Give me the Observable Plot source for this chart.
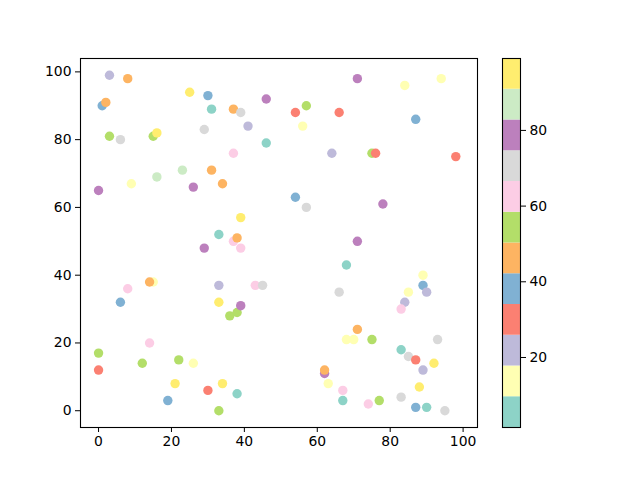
<!DOCTYPE html>
<html>
<head>
<meta charset="utf-8">
<script src="https://cdn.jsdelivr.net/npm/d3@7"></script>
<script src="https://cdn.jsdelivr.net/npm/@observablehq/plot@0.6"></script>
<style>
  body { margin: 0; background: white; }
  #wrap { position: relative; width: 640px; height: 480px; }
  #chart, #cbar { position: absolute; top: 0; }
  #chart { left: 0; }
  #cbar { left: 480px; }
</style>
</head>
<body>
<div id="wrap"><div id="chart"></div><div id="cbar"></div></div>
<script>
// point positions
const xs = [3, 8, 25, 30, 46, 1, 2, 31, 37, 39, 41, 46, 3, 6, 15, 16, 29, 37, 23, 31,
  16, 9, 26, 34, 0, 39, 33, 37, 38, 29, 39, 71, 84, 94, 57, 54, 66, 87, 56, 64,
  75, 76, 98, 54, 57, 78, 71, 8, 15, 14, 6, 33, 43, 45, 33, 36, 38, 39, 14, 0,
  0, 12, 22, 26, 21, 34, 30, 38, 19, 33, 68, 89, 89, 90, 85, 66, 84, 83, 71, 68,
  70, 75, 93, 83, 85, 87, 92, 89, 62, 62, 63, 67, 88, 67, 74, 77, 83, 87, 90, 95];
const ys = [99, 98, 94, 93, 92, 90, 91, 89, 89, 88, 84, 79, 81, 80, 81, 82, 83, 76, 71, 71,
  69, 67, 66, 67, 65, 57, 52, 50, 51, 48, 48, 98, 96, 98, 90, 88, 88, 86, 84, 76,
  76, 76, 75, 63, 60, 61, 50, 36, 38, 38, 32, 37, 37, 37, 32, 28, 29, 31, 20, 17,
  12, 14, 15, 14, 8, 8, 6, 5, 3, 0, 43, 40, 37, 35, 35, 35, 32, 30, 24, 21,
  21, 21, 21, 18, 16, 15, 14, 12, 11, 12, 8, 6, 7, 3, 2, 3, 4, 1, 1, 0];
// colour value per point (estimated from the colour band it falls in)
const cs = [22, 46, 95, 38, 78, 38, 46, 5, 46, 70, 22, 5, 54, 70, 54, 95, 70, 62, 87, 46,
  87, 14, 78, 46, 78, 95, 5, 62, 46, 78, 62, 78, 14, 14, 54, 30, 30, 38, 14, 22,
  54, 30, 30, 38, 70, 78, 78, 62, 14, 46, 38, 22, 62, 70, 95, 54, 54, 78, 62, 54,
  30, 54, 54, 14, 95, 95, 30, 5, 38, 54, 5, 14, 38, 22, 14, 70, 22, 62, 46, 14,
  14, 54, 70, 5, 70, 30, 95, 22, 78, 46, 14, 62, 95, 5, 62, 54, 70, 38, 5, 70];
const cMin = 1.5;
const cMax = 99;
const axisTicks = [0, 20, 40, 60, 80, 100];
const cbarTicks = [20, 40, 60, 80];

const colors = d3.schemeSet3;
const step = (cMax - cMin) / colors.length;
const thresholds = d3.range(1, colors.length).map(i => cMin + i * step);
const colorScale = { type: "threshold", domain: thresholds, range: colors };

const pts = xs.map((x, i) => ({ x, y: ys[i], c: cs[i] }));
const bands = colors.map((col, i) => ({ y1: cMin + i * step, y2: cMin + (i + 1) * step, c: cMin + (i + 0.5) * step }));

const font = { "font-family": "DejaVu Sans", "font-size": "13.9px", color: "black", background: "white" };

let chart = Plot.plot({
  width: 480,
  height: 480,
  marginLeft: 80,
  marginRight: 3,
  marginTop: 58,
  marginBottom: 53,
  style: font,
  x: { domain: [-4.95, 103.95], ticks: axisTicks, tickSize: 5, tickPadding: 4, label: null },
  y: { domain: [-4.95, 103.95], ticks: axisTicks, tickSize: 5, tickPadding: 4, label: null },
  color: colorScale,
  marks: [
    Plot.dot(pts, { x: "x", y: "y", fill: "c", r: 4.7, stroke: "none" }),
    Plot.frame({ stroke: "black", strokeWidth: 1.1 })
  ]
});
d3.select("#chart").append(() => chart);

let cbar = Plot.plot({
  width: 160,
  height: 480,
  marginLeft: 22,
  marginRight: 120,
  marginTop: 58,
  marginBottom: 53,
  style: font,
  x: { domain: [0, 1], axis: null },
  y: { domain: [cMin, cMax], axis: "right", ticks: cbarTicks, tickSize: 5, tickPadding: 4, label: null },
  color: colorScale,
  marks: [
    Plot.rect(bands, { x1: 0, x2: 1, y1: "y1", y2: "y2", fill: "c" }),
    Plot.frame({ stroke: "black", strokeWidth: 1.1 })
  ]
});
d3.select("#cbar").append(() => cbar);
</script>
</body>
</html>
